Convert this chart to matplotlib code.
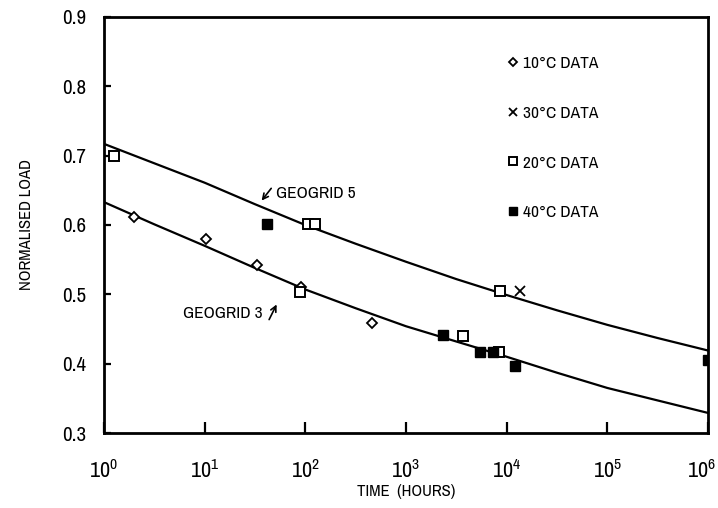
import matplotlib
matplotlib.use("Agg")
import matplotlib.pyplot as plt
import matplotlib.transforms as mtransforms
from matplotlib import font_manager
import numpy as np

names = sorted({f.name for f in font_manager.fontManager.ttflist})
narrow = [n for n in names if 'Narrow' in n or 'Condensed' in n]
family = narrow[:1] + ['Liberation Sans', 'DejaVu Sans']
plt.rcParams['font.family'] = family
plt.rcParams['font.weight'] = 'bold'
plt.rcParams['mathtext.default'] = 'regular'

t_curve = [1, 3.16, 10, 31.6, 100, 316, 1000, 3160, 1e4, 3.16e4, 1e5, 3.16e5, 1e6]
geogrid5 = [0.717, 0.689, 0.661, 0.630, 0.600, 0.573, 0.547, 0.522, 0.499, 0.477, 0.456, 0.437, 0.419]
geogrid3 = [0.633, 0.601, 0.570, 0.538, 0.507, 0.480, 0.454, 0.432, 0.410, 0.387, 0.365, 0.347, 0.329]

# test data
t10 = [2.0, 10.3, 33, 90, 458]
y10 = [0.612, 0.580, 0.542, 0.510, 0.459]
t20 = [1.26, 107, 124, 88, 3650, 8420, 8500]
y20 = [0.700, 0.602, 0.602, 0.504, 0.440, 0.4165, 0.505]
t30 = [13500]
y30 = [0.505]
t40 = [42, 2310, 5420, 7250, 12000, 1e6]
y40 = [0.602, 0.441, 0.4165, 0.4165, 0.397, 0.406]

xticks = [1, 10, 100, 1000, 1e4, 1e5, 1e6]
xlabels = [r'$\mathregular{10^{%d}}$' % i for i in range(7)]
yticks = [0.3, 0.4, 0.5, 0.6, 0.7, 0.8, 0.9]

fig = plt.figure(figsize=(7.18, 5.08), dpi=100)
ax = fig.add_axes([0.1448, 0.1476, 0.8412, 0.819])

ax.plot(t_curve, geogrid5, color='black', linewidth=1.6)
ax.plot(t_curve, geogrid3, color='black', linewidth=1.6)

ax.plot(t10, y10, linestyle='none', marker='D', markersize=5.5, markerfacecolor='white',
        markeredgecolor='black', markeredgewidth=1.3, label='10°C DATA')
ax.plot(t30, y30, linestyle='none', marker='x', markersize=7, color='black',
        markeredgewidth=1.3, label='30°C DATA')
ax.plot(t20, y20, linestyle='none', marker='s', markersize=6.5, markerfacecolor='white',
        markeredgecolor='black', markeredgewidth=1.4, label='20°C DATA')
ax.plot(t40, y40, linestyle='none', marker='s', markersize=6.5, color='black', label='40°C DATA')

ax.set_xscale('log')
ax.set_xlim(1, 1e6)
ax.set_ylim(0.3, 0.9)
ax.set_xticks(xticks, xlabels)
ax.minorticks_off()
ax.set_yticks(yticks, ['%.1f' % v for v in yticks])
ax.tick_params(axis='x', direction='in', length=8, width=1.6, pad=19, labelsize=16)
ax.tick_params(axis='y', direction='in', length=5, width=1.6, pad=13, labelsize=15)
for s in ax.spines.values():
    s.set_linewidth(2)
# last tick label sits against the right edge
last = ax.get_xticklabels()[-1]
last.set_transform(last.get_transform() + mtransforms.ScaledTranslation(-5 / 72, 0, fig.dpi_scale_trans))

ax.set_xlabel('TIME  (HOURS)', fontsize=12, labelpad=1)
ax.set_ylabel('NORMALISED LOAD', fontsize=12, labelpad=20)

ax.text(51, 0.646, 'GEOGRID 5', fontsize=12.5, va='center', ha='left')
ax.annotate('', xy=(35.4, 0.632), xytext=(47.7, 0.656),
            arrowprops=dict(arrowstyle='->', color='black', lw=1.2))
ax.text(37.9, 0.473, 'GEOGRID 3', fontsize=12.5, va='center', ha='right')
ax.annotate('', xy=(53.4, 0.489), xytext=(42.5, 0.460),
            arrowprops=dict(arrowstyle='->', color='black', lw=1.2))

ax.legend(loc='upper left', bbox_to_anchor=(0.655, 0.928), frameon=False, fontsize=12.5,
          handlelength=0.6, handletextpad=0.25, labelspacing=2.0, borderpad=0,
          markerscale=0.8)

fig.savefig('out.png', dpi=100)
